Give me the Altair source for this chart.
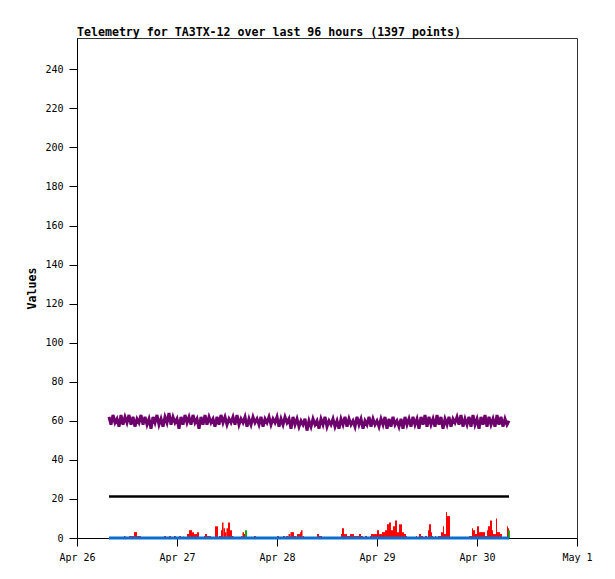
import altair as alt
import pandas as pd
import numpy as np

BASE = pd.Timestamp("2024-04-26 00:00:00")

# Purple series (sampled every 0.48 h, hand-read values)
purple_start_h = 7.68
purple_step_h = 0.48
purple_vals = [
    62, 58, 63, 59, 61, 57, 63, 58, 62, 59, 63, 58, 62, 57, 61, 59, 63, 58, 62, 58,
    61, 56, 62, 59, 63, 58, 61, 57, 62, 59, 64, 58, 62, 59, 61, 56, 62, 58, 63, 59,
    62, 58, 63, 59, 61, 56, 62, 58, 63, 58, 62, 59, 61, 57, 62, 58, 63, 59, 62, 58,
    61, 59, 62, 58, 63, 58, 61, 59, 62, 57, 61, 58, 62, 59, 61, 58, 62, 57, 61, 59,
    62, 58, 61, 59, 62, 57, 61, 58, 62, 59, 61, 56, 62, 58, 61, 57, 60, 58, 61, 55,
    60, 57, 61, 58, 60, 56, 61, 58, 62, 57, 60, 58, 61, 57, 60, 56, 61, 58, 62, 57,
    61, 58, 60, 57, 62, 58, 61, 56, 60, 58, 62, 57, 61, 58, 60, 57, 61, 58, 62, 56,
    61, 57, 62, 58, 60, 57, 61, 56, 62, 58, 61, 57, 62, 58, 61, 56, 62, 58, 63, 57,
    62, 58, 61, 57, 63, 58, 62, 56, 61, 58, 62, 57, 61, 59, 62, 58, 63, 57, 61, 58,
    62, 57, 63, 58, 61, 56, 62, 58, 63, 57, 62, 58, 61, 57, 63, 58, 62, 57, 61, 58,
    60,
]

# Black constant series
black_h = [7.68, 103.68]
black_vals = [21.3, 21.3]

# Blue series (zero)
blue_h = [7.68, 103.68]
blue_vals = [0, 0]

# Red impulses: start hour, end hour, value
red_start = [11.28, 12.48, 13.68, 14.40, 20.88, 22.08, 23.28, 24.48, 26.40, 26.88, 27.60, 28.08, 28.80,
             30.48, 30.72, 31.20, 33.12, 34.08, 34.56, 34.80, 35.16, 35.52, 35.88, 36.24, 36.72, 37.20,
             39.36, 39.72, 40.08, 42.48, 48.00, 49.44, 50.16, 50.76, 51.24, 52.08, 52.80, 53.52, 53.76,
             54.12, 57.60, 58.08, 58.56, 63.36, 63.60, 64.08, 64.80, 65.52, 66.48, 67.68, 68.16, 69.12,
             70.32, 70.56, 71.04, 72.00, 72.48, 73.20, 73.92, 74.40, 74.88, 75.36, 75.84, 76.32, 76.80,
             77.28, 78.00, 78.48, 78.96, 81.36, 82.08, 82.56, 83.52, 84.24, 84.48, 84.96, 85.20, 85.92,
             86.64, 87.36, 87.84, 88.08, 88.56, 88.80, 94.08, 94.80, 95.04, 95.52, 96.00, 96.48, 96.72,
             97.92, 98.40, 98.64, 99.12, 99.60, 99.84, 100.56, 100.80, 101.52, 103.20, 103.44]
red_end = [11.64, 13.68, 14.40, 15.36, 21.36, 22.56, 23.76, 24.96, 26.88, 27.60, 28.08, 28.80, 29.28,
           30.72, 31.20, 32.16, 33.84, 34.56, 34.80, 35.16, 35.52, 35.88, 36.24, 36.72, 37.20, 37.56,
           39.72, 40.08, 40.32, 42.96, 48.48, 49.92, 50.76, 51.24, 52.08, 52.68, 53.52, 53.76, 54.12,
           54.48, 58.08, 58.56, 58.80, 63.60, 64.08, 64.80, 65.52, 66.48, 67.68, 68.16, 68.64, 69.60,
           70.56, 71.04, 72.00, 72.48, 73.20, 73.92, 74.40, 74.88, 75.36, 75.84, 76.32, 76.80, 77.28,
           78.00, 78.48, 78.96, 79.20, 81.60, 82.56, 83.04, 84.00, 84.48, 84.96, 85.20, 85.44, 86.16,
           87.36, 87.84, 88.08, 88.56, 88.80, 89.52, 94.80, 95.04, 95.52, 96.00, 96.48, 96.72, 97.92,
           98.40, 98.64, 99.12, 99.60, 99.84, 100.56, 100.80, 101.52, 102.00, 103.44, 103.68]
red_vals = [1, 1, 3, 1, 1, 1, 1, 1, 2, 4, 3, 2, 3,
            1, 2, 1, 6, 1, 4, 8, 5, 3, 5, 8, 4, 1,
            1, 3, 2, 1, 1, 1, 1, 2, 3, 1, 2, 3, 4,
            1, 2, 1, 1, 2, 5, 2, 1, 2, 1, 2, 1, 1,
            1, 2, 2, 4, 2, 3, 4, 7, 8, 4, 6, 9, 3,
            7, 3, 2, 1, 1, 2, 1, 1, 4, 7, 3, 1, 1,
            1, 3, 6, 2, 13.3, 11.2, 1, 5, 4, 2, 6, 3, 3,
            1, 4, 6, 9, 4, 2, 10, 3, 2, 6, 5]

# Green impulses
green_start = [13.92, 25.44, 40.32, 103.50]
green_end = [14.16, 25.68, 40.80, 103.90]
green_vals = [0.8, 0.8, 4, 4]

def ts(h):
    return BASE + pd.to_timedelta(np.asarray(h, dtype=float), unit="h")

purple_h = [purple_start_h + i * purple_step_h for i in range(len(purple_vals))]
purple_df = pd.DataFrame({"t": ts(purple_h), "v": purple_vals})
black_df = pd.DataFrame({"t": ts(black_h), "v": black_vals})
blue_df = pd.DataFrame({"t": ts(blue_h), "v": blue_vals})
red_df = pd.DataFrame({"t": ts(red_start), "t2": ts(red_end), "v": red_vals})
green_df = pd.DataFrame({"t": ts(green_start), "t2": ts(green_end), "v": green_vals})

FONT = "DejaVu Sans Mono"
xscale = alt.Scale(domain=[alt.DateTime(year=2024, month=4, date=26),
                           alt.DateTime(year=2024, month=5, date=1)], nice=False)
yscale = alt.Scale(domain=[0, 256], nice=False, zero=True)
day_ticks = [alt.DateTime(year=2024, month=4, date=d) for d in [26, 27, 28, 29, 30]] + \
            [alt.DateTime(year=2024, month=5, date=1)]

xaxis = alt.Axis(values=day_ticks, format="%b %-d", title=None, grid=False,
                 tickSize=8, labelPadding=6, labelFontSize=10, labelFont=FONT,
                 domainColor="#000", tickColor="#000", labelColor="#000", labelFlush=False)
yaxis = alt.Axis(values=list(range(0, 241, 20)), title="Values", grid=False,
                 tickSize=8, labelPadding=6, labelFontSize=10, labelFont=FONT,
                 titleFont=FONT, titleFontSize=11.6, titleFontWeight="bold", titlePadding=7,
                 domainColor="#000", tickColor="#000", labelColor="#000", titleColor="#000")

X = alt.X("t:T", scale=xscale, axis=xaxis)
Y = alt.Y("v:Q", scale=yscale, axis=yaxis)

red = alt.Chart(red_df).mark_rect(color="#ff0000").encode(
    x=X, x2="t2:T", y=Y, y2=alt.datum(0))
green = alt.Chart(green_df).mark_rect(color="#00b000").encode(
    x=X, x2="t2:T", y=Y, y2=alt.datum(0))
blue = alt.Chart(blue_df).mark_line(color="#0a6ecf", strokeWidth=3).encode(x=X, y=Y)
black = alt.Chart(black_df).mark_line(color="#000000", strokeWidth=2.5).encode(x=X, y=Y)
purple = alt.Chart(purple_df).mark_line(color="#6e006e", strokeWidth=3).encode(x=X, y=Y)

chart = alt.layer(red, green, blue, black, purple).properties(
    width=500, height=500,
    title=alt.TitleParams("Telemetry for TA3TX-12 over last 96 hours (1397 points)",
                          anchor="start", frame="group", font=FONT, fontSize=11.6,
                          fontWeight="bold", color="#000", offset=-1),
    autosize=alt.AutoSizeParams(type="none"),
    padding={"left": 69, "top": 30, "right": 30, "bottom": 33},
).configure_view(stroke="#333333", strokeWidth=1)

chart.save("out.html", embed_options={"renderer": "svg", "actions": False})
